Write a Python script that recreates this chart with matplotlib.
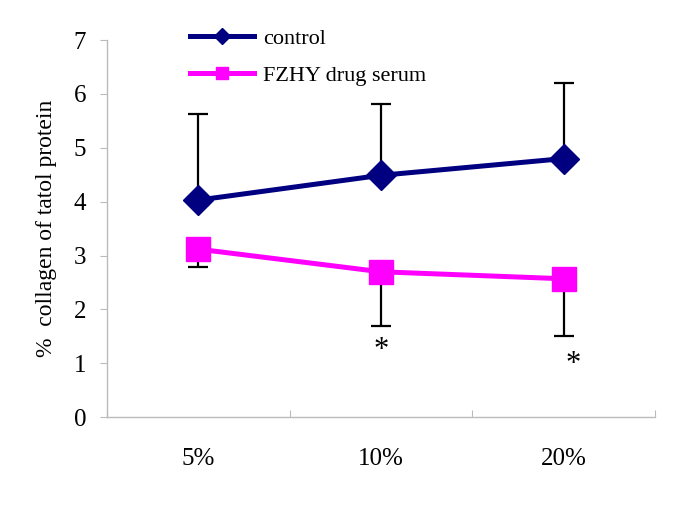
import numpy as np
import matplotlib.pyplot as plt

# Datos
categories = ['5%', '10%', '20%']
control = [4.03, 4.49, 4.80]
control_upper = [5.62, 5.81, 6.21]
fzhy = [3.12, 2.70, 2.57]
fzhy_lower = [2.79, 1.69, 1.50]
star_pos = [(1, 1.24, 0.0), (2, 0.98, 0.05)]  # (categoria, y, desplazamiento x)

serif = ['Liberation Serif', 'DejaVu Serif']

fig = plt.figure(figsize=(6.85, 5.07), dpi=100)
ax = fig.add_axes([0.156, 0.177, 0.8, 0.744])

x = np.arange(len(categories))
c_err = np.array(control_upper) - np.array(control)
f_err = np.array(fzhy) - np.array(fzhy_lower)

ax.errorbar(x, control, yerr=[np.zeros(3), c_err], fmt='none', ecolor='black',
            elinewidth=1.6, capsize=7, capthick=1.6, zorder=1)
ax.errorbar(x, fzhy, yerr=[f_err, np.zeros(3)], fmt='none', ecolor='black',
            elinewidth=1.6, capsize=7, capthick=1.6, zorder=1)

ax.plot(x, control, color='#000080', lw=3.6, marker='D', markersize=15,
        label='control', zorder=3)
ax.plot(x, fzhy, color='#FF00FF', lw=3.6, marker='s', markersize=17,
        label='FZHY drug serum', zorder=3)

for i, y, dx in star_pos:
    ax.text(i + dx, y, '*', ha='center', va='center', fontsize=22,
            family=serif)

ax.set_xlim(-0.5, 2.5)
ax.set_ylim(0, 7)
ax.set_xticks([-0.5, 0.5, 1.5, 2.5])
ax.set_xticklabels([])
ax.set_xticks(x, minor=True)
ax.set_xticklabels(categories, minor=True, fontsize=18, family=serif)
ax.tick_params(axis='x', which='minor', length=0, pad=22)
ax.tick_params(axis='x', which='major', direction='in', length=5, color='#BBBBBB')
ax.set_yticks(range(8))
ax.set_yticklabels([str(v) for v in range(8)], fontsize=18, family=serif)
ax.tick_params(axis='y', length=5, color='#BBBBBB', pad=10)

for s in ['top', 'right']:
    ax.spines[s].set_visible(False)
for s in ['left', 'bottom']:
    ax.spines[s].set_color('#BBBBBB')
    ax.spines[s].set_linewidth(1.0)

ax.set_ylabel('%  collagen of tatol protein', fontsize=17, family=serif, labelpad=12)

ax.legend(loc='upper left', bbox_to_anchor=(0.115, 1.085), frameon=False,
          prop={'family': serif, 'size': 16}, handlelength=2.9, labelspacing=0.75,
          handletextpad=0.4, markerscale=0.55)

fig.savefig('out.png', dpi=100)
